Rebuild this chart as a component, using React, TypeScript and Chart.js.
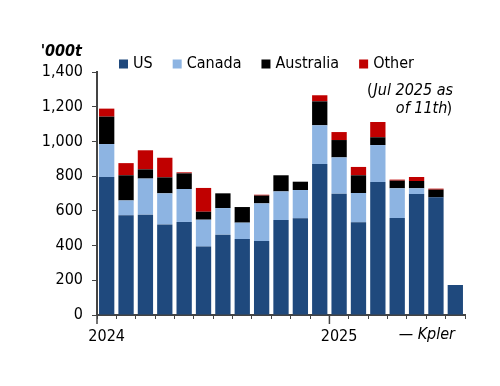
import React, { useEffect, useRef } from "react";
import { Chart, registerables } from "chart.js";
Chart.register(...registerables);

const FONT = "'DejaVu Sans Condensed', 'DejaVu Sans', sans-serif";

const categories = [
  "Jan 2024", "Feb 2024", "Mar 2024", "Apr 2024", "May 2024", "Jun 2024",
  "Jul 2024", "Aug 2024", "Sep 2024", "Oct 2024", "Nov 2024", "Dec 2024",
  "Jan 2025", "Feb 2025", "Mar 2025", "Apr 2025", "May 2025", "Jun 2025", "Jul 2025",
];
const usValues = [795, 575, 578, 522, 536, 394, 463, 438, 426, 547, 557, 870, 699, 534, 766, 559, 697, 678, 173];
const canadaValues = [190, 85, 208, 179, 190, 155, 153, 94, 217, 165, 163, 223, 209, 169, 213, 171, 33, 0, 0];
const australiaValues = [158, 145, 53, 92, 90, 46, 85, 90, 45, 93, 48, 138, 100, 102, 45, 44, 42, 44, 0];
const otherValues = [46, 70, 110, 113, 6, 137, 0, 0, 5, 0, 0, 35, 46, 48, 88, 6, 23, 6, 0];

const seriesNames = ["US", "Canada", "Australia", "Other"];
const seriesColors = ["#1F497D", "#8DB4E2", "#000000", "#C00000"];
const unitLabel = "'000t";
const noteLines = ["Jul 2025 as", "of 11th"];
const sourceLabel = "\u2014 Kpler";

const annotPlugin = {
  id: "annot",
  afterDraw(chart: any) {
    const ctx = chart.ctx as CanvasRenderingContext2D;
    const xs = chart.scales.x;
    ctx.save();
    // legend
    ctx.font = `16px ${FONT}`;
    ctx.textBaseline = "middle";
    ctx.textAlign = "left";
    let x = 119;
    const yc = 64;
    seriesNames.forEach((name, i) => {
      ctx.fillStyle = seriesColors[i];
      ctx.fillRect(x, yc - 4.5, 9, 9);
      ctx.fillStyle = "#000";
      ctx.fillText(name, x + 14, yc);
      x += 14 + ctx.measureText(name).width + 20;
    });
    // unit
    ctx.font = `italic bold 16px ${FONT}`;
    ctx.textAlign = "right";
    ctx.fillText(unitLabel, 82, 52);
    // note: parentheses upright, text italic
    const upright = `16px ${FONT}`;
    const ital = `italic 16px ${FONT}`;
    ctx.font = ital;
    ctx.fillText(noteLines[0], 453, 91);
    const w0 = ctx.measureText(noteLines[0]).width;
    ctx.font = upright;
    ctx.fillText("(", 453 - w0 - 1, 91);
    const wp = ctx.measureText(")").width;
    ctx.fillText(")", 452, 109);
    ctx.font = ital;
    ctx.fillText(noteLines[1], 452 - wp + 1, 109);
    // source
    ctx.fillText(sourceLabel, 455, 335);
    // long ticks at year boundaries
    ctx.strokeStyle = "#444";
    ctx.lineWidth = 1.5;
    categories.forEach((c, i) => {
      if (!c.startsWith("Jan")) return;
      const px = i === 0 ? xs.left : (xs.getPixelForValue(i - 1) + xs.getPixelForValue(i)) / 2;
      ctx.beginPath();
      ctx.moveTo(px, xs.top);
      ctx.lineTo(px, xs.top + 9);
      ctx.stroke();
    });
    ctx.restore();
  },
};

export default function App() {
  const ref = useRef<HTMLCanvasElement>(null);
  useEffect(() => {
    const values = [usValues, canadaValues, australiaValues, otherValues];
    const chart = new Chart(ref.current!, {
      type: "bar",
      data: {
        labels: categories,
        datasets: seriesNames.map((name, i) => ({
          label: name,
          data: values[i],
          backgroundColor: seriesColors[i],
          categoryPercentage: 1,
          barPercentage: 0.79,
        })),
      },
      options: {
        animation: false,
        responsive: false,
        devicePixelRatio: 1,
        layout: { padding: { top: 72, right: 35, left: 0, bottom: 0 } },
        plugins: { legend: { display: false }, tooltip: { enabled: false } },
        scales: {
          x: {
            stacked: true,
            offset: true,
            grid: { offset: true, drawOnChartArea: false, drawTicks: true, tickLength: 4, color: "#444", lineWidth: 1 },
            border: { display: true, color: "#444", width: 2 },
            ticks: {
              autoSkip: false,
              maxRotation: 0,
              minRotation: 0,
              padding: 8,
              color: "#000",
              font: { family: FONT, size: 16 },
              callback: (_v: any, i: number) => (categories[i].startsWith("Jan") ? categories[i].slice(4) : ""),
            },
            afterFit: (s: any) => {
              s.height = 71;
            },
          },
          y: {
            stacked: true,
            min: 0,
            max: 1400,
            grid: { drawOnChartArea: false, drawTicks: true, tickLength: 5, color: "#444", lineWidth: 1 },
            border: { display: true, color: "#444", width: 2 },
            ticks: {
              stepSize: 100,
              padding: 9,
              color: "#000",
              font: { family: FONT, size: 16 },
              callback: (v: any) => (Number(v) % 200 === 0 ? Number(v).toLocaleString("en-US") : ""),
            },
            afterFit: (s: any) => {
              s.width = 97;
            },
          },
        },
      },
      plugins: [annotPlugin],
    } as any);
    return () => chart.destroy();
  }, []);
  return (
    <div style={{ position: "absolute", left: 0, top: 0, width: 500, height: 386, background: "#fff" }}>
      <canvas ref={ref} width={500} height={386} style={{ display: "block" }} />
    </div>
  );
}
